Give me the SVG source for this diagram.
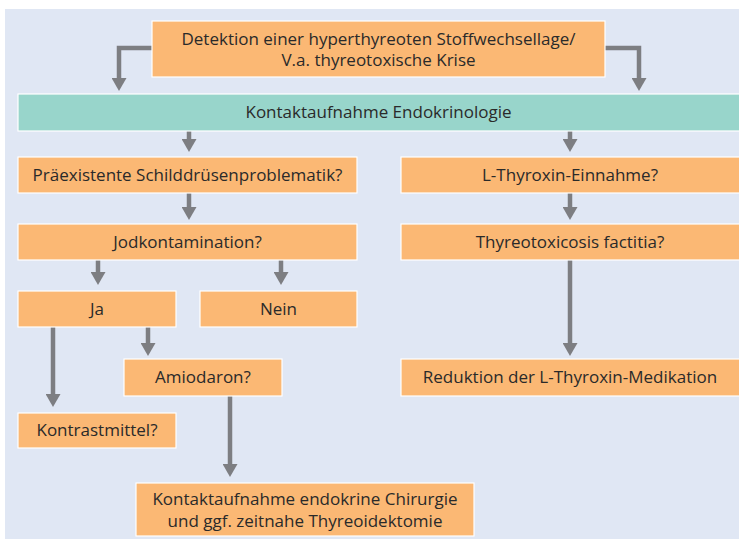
<svg xmlns="http://www.w3.org/2000/svg" width="739" height="539" viewBox="0 0 739 539">
<defs>
<style>
.bg{fill:#e0e7f4}
.box{fill:#fbb874;stroke:#ffffff;stroke-width:1.2}
.teal{fill:#98d5cb;stroke:#ffffff;stroke-width:1.2}
.t{font-family:"Open Sans","Liberation Sans",Arial,sans-serif;font-size:17px;fill:#2a2a2a;text-anchor:middle}
.c{fill:none;stroke:#7d7e82;stroke-width:4.5}
</style>
<marker id="ah" viewBox="0 0 13 15" refX="1" refY="7.5" markerWidth="13" markerHeight="15" markerUnits="userSpaceOnUse" orient="auto">
<path d="M0,0 L13,7.5 L0,15 z" fill="#7d7e82"/>
</marker>
</defs>
<rect x="0" y="0" width="739" height="539" fill="#ffffff"/>
<rect class="bg" x="5" y="9" width="734" height="530"/>

<g id="connectors">
<path class="c" d="M152,48 H119 V79" marker-end="url(#ah)"/>
<path class="c" d="M605,48 H639 V79" marker-end="url(#ah)"/>
<path class="c" d="M189,131 V140" marker-end="url(#ah)"/>
<path class="c" d="M570,131 V140" marker-end="url(#ah)"/>
<path class="c" d="M189,193 V208" marker-end="url(#ah)"/>
<path class="c" d="M570,193 V208" marker-end="url(#ah)"/>
<path class="c" d="M98,260 V273" marker-end="url(#ah)"/>
<path class="c" d="M281,260 V273" marker-end="url(#ah)"/>
<path class="c" d="M570,260 V344" marker-end="url(#ah)"/>
<path class="c" d="M53,327 V395" marker-end="url(#ah)"/>
<path class="c" d="M148,327 V344" marker-end="url(#ah)"/>
<path class="c" d="M230,396 V465" marker-end="url(#ah)"/>
</g>

<g id="detektion">
<rect class="box" x="152" y="21" width="453" height="56"/>
<text class="t" x="378.5" y="45">Detektion einer hyperthyreoten Stoffwechsellage/</text>
<text class="t" x="378.5" y="66">V.a. thyreotoxische Krise</text>
</g>
<g id="endokrinologie">
<rect class="teal" x="18" y="94" width="722" height="37"/>
<text class="t" x="378.5" y="118">Kontaktaufnahme Endokrinologie</text>
</g>
<g id="praeexistente">
<rect class="box" x="18" y="157" width="339" height="36"/>
<text class="t" x="187.5" y="181">Präexistente Schilddrüsenproblematik?</text>
</g>
<g id="lthyroxin">
<rect class="box" x="401" y="157" width="339" height="36"/>
<text class="t" x="570" y="181">L-Thyroxin-Einnahme?</text>
</g>
<g id="jod">
<rect class="box" x="18" y="224" width="339" height="36"/>
<text class="t" x="187.5" y="248">Jodkontamination?</text>
</g>
<g id="factitia">
<rect class="box" x="401" y="224" width="339" height="36"/>
<text class="t" x="570" y="248">Thyreotoxicosis factitia?</text>
</g>
<g id="ja">
<rect class="box" x="18" y="291" width="158" height="36"/>
<text class="t" x="97" y="315">Ja</text>
</g>
<g id="nein">
<rect class="box" x="200" y="291" width="157" height="36"/>
<text class="t" x="278.5" y="315">Nein</text>
</g>
<g id="amiodaron">
<rect class="box" x="124" y="359" width="158" height="37"/>
<text class="t" x="203" y="383">Amiodaron?</text>
</g>
<g id="reduktion">
<rect class="box" x="401" y="359" width="339" height="37"/>
<text class="t" x="570" y="383">Reduktion der L-Thyroxin-Medikation</text>
</g>
<g id="kontrastmittel">
<rect class="box" x="18" y="413" width="158" height="35"/>
<text class="t" x="97" y="436">Kontrastmittel?</text>
</g>
<g id="chirurgie">
<rect class="box" x="136" y="483" width="338" height="53"/>
<text class="t" x="305" y="505">Kontaktaufnahme endokrine Chirurgie</text>
<text class="t" x="305" y="527">und ggf. zeitnahe Thyreoidektomie</text>
</g>
</svg>
